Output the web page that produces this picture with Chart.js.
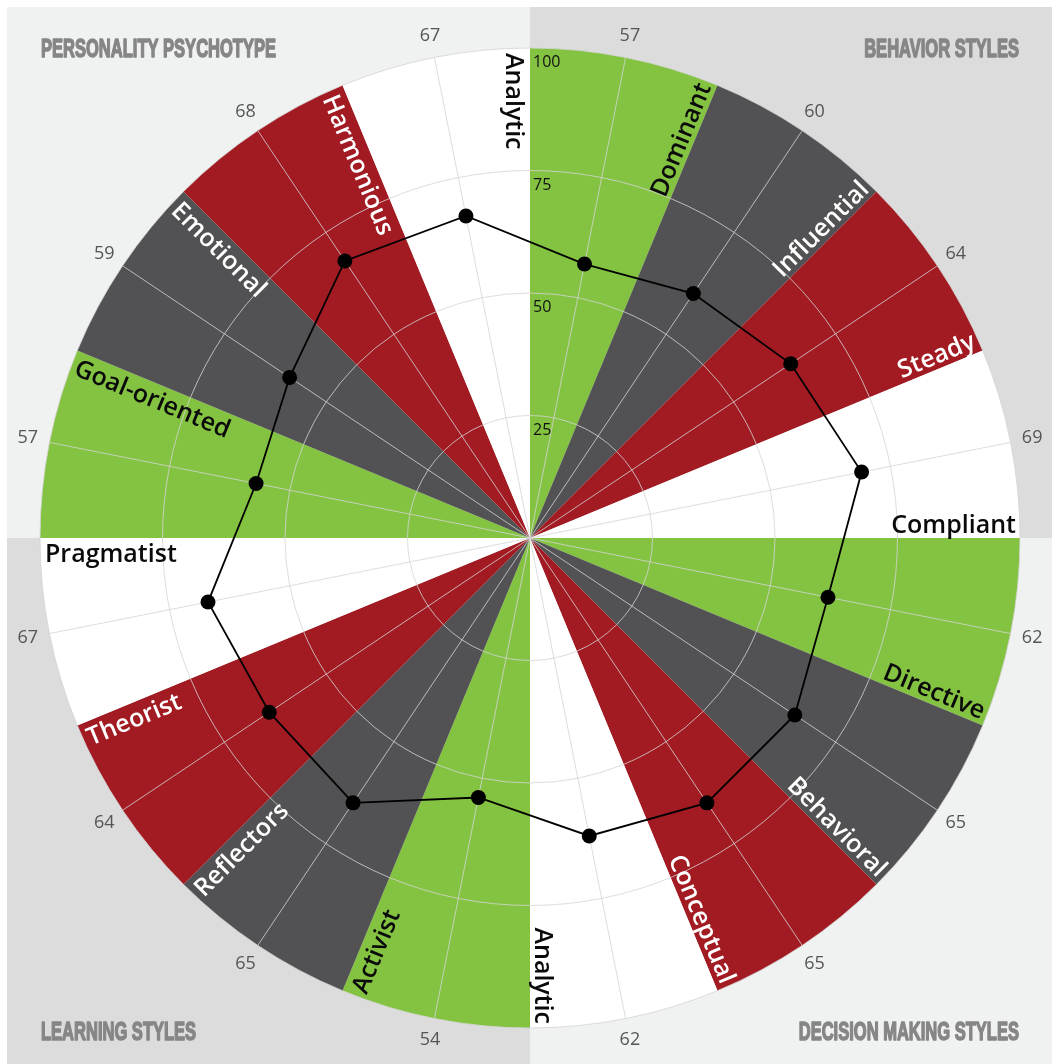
<!DOCTYPE html>
<html>
<head>
<meta charset="utf-8">
<script src="https://cdn.jsdelivr.net/npm/chart.js"></script>
<style>
  html, body { margin: 0; padding: 0; background: #ffffff; }
  #wrap { position: relative; width: 1052px; height: 1064px; }
</style>
</head>
<body>
<div id="wrap"><canvas id="c"></canvas></div>
<script>
// ---- data ----
const categories = ['Dominant','Influential','Steady','Compliant','Directive','Behavioral','Conceptual','Analytic',
                    'Activist','Reflectors','Theorist','Pragmatist','Goal-oriented','Emotional','Harmonious','Analytic'];
const scores = [57, 60, 64, 69, 62, 65, 65, 62, 54, 65, 64, 67, 57, 59, 68, 67];
const sectorExtent = [100, 100, 100, 100, 100, 100, 100, 100, 100, 100, 100, 100, 100, 100, 100, 100];
const tickValues = [25, 50, 75, 100];
const quadrantTitles = ['PERSONALITY PSYCHOTYPE', 'BEHAVIOR STYLES', 'LEARNING STYLES', 'DECISION MAKING STYLES'];

// ---- styles ----
const GREEN = '#84c341', GRAY = '#525254', RED = '#a31b22', WHITE = '#ffffff';
const sectorColors = [GREEN, GRAY, RED, WHITE, GREEN, GRAY, RED, WHITE, GREEN, GRAY, RED, WHITE, GREEN, GRAY, RED, WHITE];
const labelColor = c => (c === GRAY || c === RED) ? '#ffffff' : '#0a0a0a';

const decor = {
  id: 'wheelDecor',
  beforeDraw(chart) {
    const ctx = chart.ctx, s = chart.scales.r2;
    const cx = s.xCenter, cy = s.yCenter, R = s.drawingArea;
    const W = chart.width, H = chart.height;
    ctx.save();
    ctx.fillStyle = '#ffffff';
    ctx.fillRect(0, 0, W, H);
    ctx.fillStyle = '#f0f1f1'; ctx.fillRect(7, 7, cx - 7, cy - 7);
    ctx.fillStyle = '#dcdcdc'; ctx.fillRect(cx, 7, W - cx, cy - 7);
    ctx.fillStyle = '#dcdcdc'; ctx.fillRect(7, cy, cx - 7, H - cy);
    ctx.fillStyle = '#f0f1f1'; ctx.fillRect(cx, cy, W - cx, H - cy);

    // titles
    ctx.font = 'bold 25px "Liberation Sans Narrow", "Liberation Sans", Arial, sans-serif';
    const sx = 235 / ctx.measureText(quadrantTitles[0]).width;
    ctx.fillStyle = '#868686';
    ctx.strokeStyle = '#868686';
    ctx.lineWidth = 1.5;
    ctx.lineJoin = 'round';
    ctx.textBaseline = 'alphabetic';
    const spots = [
      [cx - R + 1, cy - 481, 'left'], [cx + R - 1, cy - 481, 'right'],
      [cx - R + 1, cy + 502, 'left'], [cx + R - 1, cy + 502, 'right']
    ];
    quadrantTitles.forEach((t, k) => {
      const [x, y, al] = spots[k];
      ctx.save();
      ctx.translate(x, y);
      ctx.scale(sx, 1);
      ctx.textAlign = al;
      ctx.fillText(t, 0, 0);
      ctx.strokeText(t, 0, 0);
      ctx.restore();
    });
    ctx.restore();
  },
  afterDatasetDraw(chart, args) {
    if (args.meta.type !== 'polarArea') return;
    const ctx = chart.ctx, s2 = chart.scales.r2, s1 = chart.scales.r;
    const cx = s2.xCenter, cy = s2.yCenter;
    const R = s2.getDistanceFromCenterForValue(100);
    ctx.save();
    // grid circles
    ctx.strokeStyle = 'rgba(212,212,212,0.8)';
    ctx.lineWidth = 1;
    tickValues.forEach(v => {
      ctx.beginPath();
      ctx.arc(cx, cy, s2.getDistanceFromCenterForValue(v), 0, Math.PI * 2);
      ctx.stroke();
    });
    // angle lines at sector middles
    for (let i = 0; i < categories.length; i++) {
      const p = s2.getPointPosition(i, R);
      ctx.beginPath();
      ctx.moveTo(cx, cy);
      ctx.lineTo(p.x, p.y);
      ctx.stroke();
    }
    // tick labels
    ctx.fillStyle = '#111111';
    ctx.font = '16px "Open Sans", sans-serif';
    ctx.textAlign = 'left';
    ctx.textBaseline = 'alphabetic';
    tickValues.forEach(v => {
      ctx.fillText(String(v), cx + 3, cy - s2.getDistanceFromCenterForValue(v) + 19);
    });
    // sector labels
    ctx.font = '600 25px "Open Sans", sans-serif';
    const n = categories.length;
    for (let i = 0; i < n; i++) {
      const a = s1.getIndexAngle(i + 1) - Math.PI / 2;
      ctx.save();
      ctx.translate(cx, cy);
      ctx.fillStyle = labelColor(sectorColors[i]);
      if (i < n / 2) {
        ctx.rotate(a);
        ctx.textAlign = 'right';
        ctx.fillText(categories[i], R - 4, -5);
      } else {
        ctx.rotate(a + Math.PI);
        ctx.textAlign = 'left';
        ctx.fillText(categories[i], -(R - 5), 24);
      }
      ctx.restore();
    }
    // outer score labels
    ctx.fillStyle = '#555555';
    ctx.font = '18px "Open Sans", sans-serif';
    ctx.textAlign = 'center';
    ctx.textBaseline = 'middle';
    for (let i = 0; i < n; i++) {
      const p = s2.getPointPosition(i, R + 22);
      ctx.fillText(String(scores[i]), p.x, p.y);
    }
    ctx.restore();
  }
};

new Chart(document.getElementById('c'), {
  type: 'polarArea',
  data: {
    labels: categories,
    datasets: [
      {
        type: 'radar',
        data: scores,
        rAxisID: 'r2',
        order: 1,
        fill: false,
        borderColor: '#000000',
        borderWidth: 1.8,
        tension: 0,
        pointRadius: 7.5,
        pointBackgroundColor: '#000000',
        pointBorderWidth: 0
      },
      {
        type: 'polarArea',
        data: sectorExtent,
        order: 2,
        backgroundColor: sectorColors,
        borderWidth: 0
      }
    ]
  },
  options: {
    responsive: true,
    maintainAspectRatio: false,
    devicePixelRatio: 1,
    animation: false,
    events: [],
    layout: { padding: { left: 40, right: 32, top: 48, bottom: 36 } },
    plugins: { legend: { display: false }, tooltip: { enabled: false } },
    scales: {
      r: {
        type: 'radialLinear', min: 0, max: 100, startAngle: 0, display: false,
        ticks: { display: false }, pointLabels: { display: false },
        grid: { display: false }, angleLines: { display: false }
      },
      r2: {
        type: 'radialLinear', min: 0, max: 100, startAngle: 11.25, display: false,
        ticks: { display: false }, pointLabels: { display: false },
        grid: { display: false }, angleLines: { display: false }
      }
    }
  },
  plugins: [decor]
});
</script>
</body>
</html>
